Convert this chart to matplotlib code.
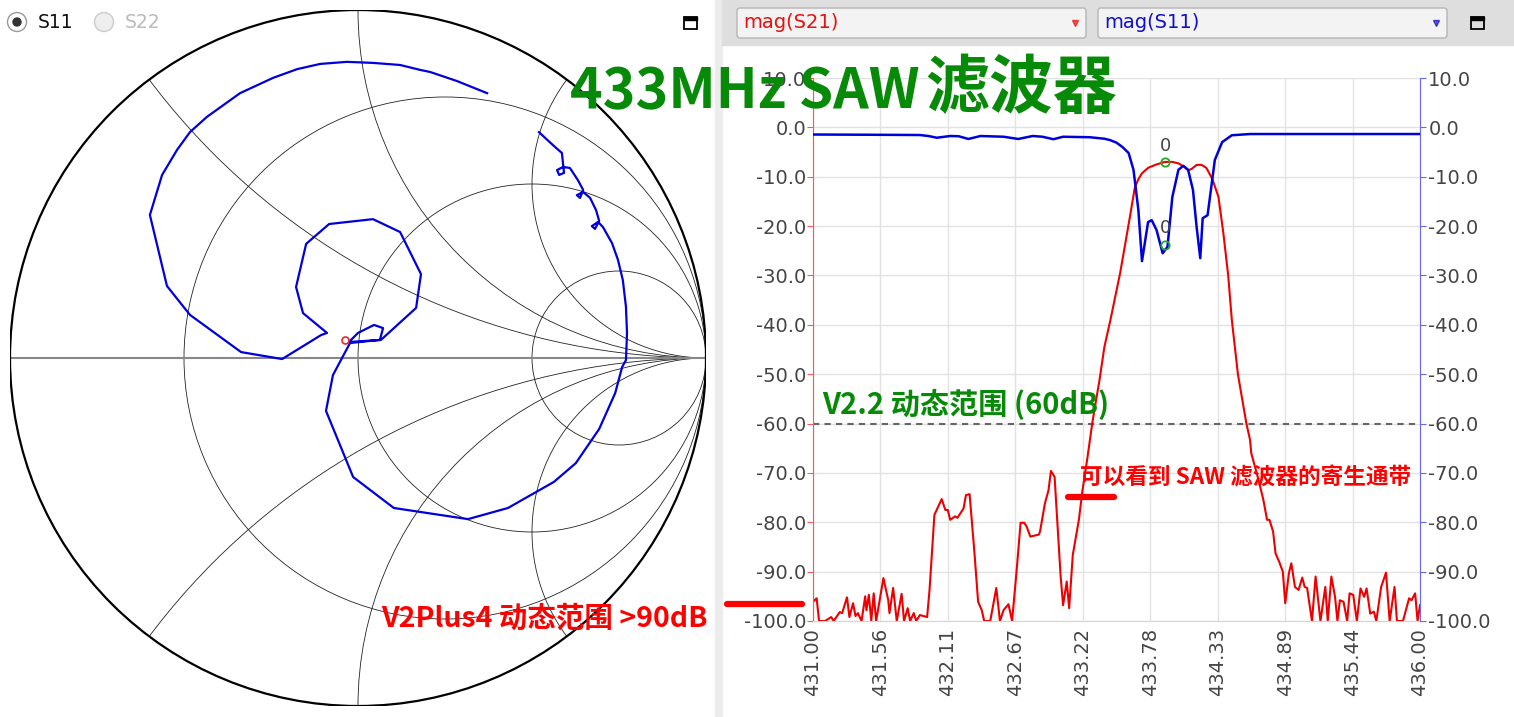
import numpy as np
import matplotlib
matplotlib.use('Agg')
import matplotlib.pyplot as plt
from matplotlib.patches import Circle, Rectangle, FancyBboxPatch

W, H = 1514, 717

# |S21| in dB vs frequency (MHz)
s21_freq = [431.00, 431.03, 431.05, 431.10, 431.15, 431.17, 431.22, 431.24, 431.28, 431.30,
            431.33, 431.35, 431.37, 431.40, 431.43, 431.44, 431.46, 431.48, 431.50, 431.52,
            431.58, 431.62, 431.63, 431.66, 431.69, 431.73, 431.75, 431.78, 431.80, 431.83,
            431.85, 431.88, 431.94, 431.96, 432.00, 432.03, 432.06, 432.09, 432.11, 432.13,
            432.17, 432.19, 432.24, 432.26, 432.29, 432.33, 432.36, 432.39, 432.41, 432.46,
            432.51, 432.54, 432.57, 432.61, 432.64, 432.68, 432.71, 432.74, 432.76, 432.79,
            432.86, 432.87, 432.91, 432.94, 432.96, 432.99, 433.04, 433.06, 433.09, 433.11,
            433.14, 433.19, 433.22, 433.26, 433.30, 433.33, 433.36, 433.40, 433.45, 433.53,
            433.61, 433.65, 433.68, 433.71, 433.76, 433.83, 433.90, 433.96, 434.01, 434.06,
            434.09, 434.12, 434.16, 434.20, 434.24, 434.29, 434.34, 434.38, 434.42, 434.45,
            434.50, 434.57, 434.60, 434.61, 434.67, 434.71, 434.74, 434.76, 434.79, 434.81,
            434.84, 434.87, 434.89, 434.92, 434.94, 434.97, 435.00, 435.03, 435.05, 435.07,
            435.11, 435.14, 435.18, 435.22, 435.24, 435.27, 435.30, 435.32, 435.34, 435.37,
            435.40, 435.42, 435.45, 435.48, 435.51, 435.54, 435.56, 435.59, 435.62, 435.64,
            435.68, 435.72, 435.75, 435.79, 435.81, 435.86, 435.91, 435.93, 435.96, 435.98,
            436.00]
s21_db = [-96.1, -95.4, -100, -100, -99.2, -100, -98.2, -98.4, -95.2, -99.2,
          -96.4, -99.0, -98.4, -100, -95.0, -97.8, -94.7, -100, -94.4, -100,
          -91.3, -95.8, -98.4, -93.3, -100, -94.5, -100, -97.4, -100, -98.4,
          -100, -98.8, -99.2, -93.7, -78.5, -76.9, -75.3, -77.5, -77.5, -79.5,
          -78.8, -79.1, -77.2, -74.5, -74.3, -86.2, -96.1, -97.8, -100, -100,
          -93.3, -100, -97.8, -96.6, -100, -89.0, -80.1, -80.1, -80.9, -82.9,
          -82.5, -81.9, -76.2, -73.5, -69.6, -70.8, -91.0, -96.8, -92.0, -97.4,
          -86.6, -79.5, -73.5, -67.0, -60.0, -55.5, -51.2, -44.5, -39.0, -29.5,
          -18.2, -12.3, -10.5, -9.3, -8.2, -7.5, -7.0, -7.0, -7.3, -8.0,
          -8.7, -8.4, -7.6, -7.6, -8.2, -10.5, -14.1, -21.4, -30.0, -39.0,
          -50.0, -60.0, -63.3, -66.0, -71.4, -75.5, -79.5, -79.5, -81.9, -86.3,
          -88.0, -90.0, -96.4, -90.3, -88.3, -93.1, -93.7, -91.2, -93.1, -93.3,
          -100, -91.0, -100, -93.1, -100, -91.0, -95.1, -100, -95.8, -96.1,
          -100, -94.4, -94.7, -100, -93.4, -95.1, -93.4, -98.5, -98.1, -100,
          -93.1, -90.2, -100, -93.1, -100, -100, -95.4, -95.8, -94.4, -100,
          -96.8]

# |S11| in dB vs frequency (MHz)
s11_freq = [431.00, 431.50, 431.88, 431.95, 432.02, 432.13, 432.20, 432.28, 432.38, 432.57,
            432.69, 432.81, 432.89, 432.98, 433.06, 433.28, 433.40, 433.45, 433.50, 433.55,
            433.60, 433.64, 433.68, 433.71, 433.76, 433.79, 433.83, 433.88, 433.92, 433.96,
            434.01, 434.05, 434.09, 434.13, 434.16, 434.19, 434.21, 434.25, 434.27, 434.31,
            434.37, 434.45, 434.60, 436.00]
s11_db = [-1.45, -1.5, -1.55, -1.75, -2.1, -1.75, -1.8, -2.35, -1.75, -1.9,
          -2.35, -1.75, -1.9, -2.4, -1.9, -2.0, -2.3, -2.6, -3.1, -4.0,
          -5.2, -8.6, -16.7, -27.1, -19.2, -18.8, -20.8, -25.5, -24.2, -14.1,
          -8.6, -7.8, -8.6, -12.7, -20.2, -26.5, -18.4, -17.8, -14.1, -6.6,
          -3.0, -1.6, -1.35, -1.35]

# S11 reflection coefficient for the Smith chart
smith_re = [0.371, 0.284, 0.207, 0.178, 0.121, 0.043, -0.032, -0.109, -0.175, -0.244,
            -0.339, -0.434, -0.483, -0.520, -0.563, -0.598, -0.549, -0.483, -0.336, -0.218,
            -0.106, -0.089, -0.158, -0.178, -0.149, -0.083, 0.043, 0.121, 0.181, 0.167,
            0.066, -0.026, 0.0, 0.046, 0.072, 0.063, -0.023, -0.072, -0.092, -0.014,
            0.103, 0.316, 0.431, 0.563, 0.626, 0.693, 0.739, 0.759, 0.770, 0.773,
            0.770, 0.761, 0.747, 0.730, 0.704, 0.690, 0.672, 0.681, 0.693, 0.684,
            0.667, 0.647, 0.629, 0.638, 0.647, 0.632, 0.609, 0.589, 0.572, 0.578,
            0.592, 0.589, 0.586, 0.560, 0.520]
smith_im = [0.761, 0.796, 0.822, 0.828, 0.842, 0.848, 0.851, 0.845, 0.830, 0.805,
            0.761, 0.693, 0.649, 0.598, 0.526, 0.411, 0.207, 0.124, 0.017, -0.003,
            0.066, 0.072, 0.129, 0.204, 0.328, 0.385, 0.399, 0.362, 0.241, 0.144,
            0.052, 0.046, 0.072, 0.095, 0.086, 0.052, 0.043, -0.049, -0.152, -0.342,
            -0.431, -0.463, -0.431, -0.356, -0.302, -0.204, -0.101, -0.026, -0.006, 0.072,
            0.147, 0.224, 0.282, 0.330, 0.376, 0.391, 0.379, 0.371, 0.394, 0.425,
            0.460, 0.477, 0.468, 0.460, 0.483, 0.511, 0.546, 0.549, 0.540, 0.526,
            0.532, 0.560, 0.589, 0.612, 0.649]

marker_freq = 433.90
marker_s21 = -7.0
marker_s11 = -23.8
marker_gamma = (-0.037, 0.052)

freq_ticks = np.linspace(431, 436, 10)
db_ticks = np.arange(-100, 11, 10)

cjk = ['Noto Sans CJK SC', 'DejaVu Sans']

fig = plt.figure(figsize=(W / 100, H / 100), dpi=100)

# ---- background / UI in pixel coords
bg = fig.add_axes([0, 0, 1, 1], zorder=0)
bg.set_xlim(0, W); bg.set_ylim(H, 0); bg.axis('off')
bg.add_patch(Rectangle((715, 0), 7, H, color='#ececec'))
bg.add_patch(Rectangle((722, 0), W - 722, 45, color='#dedede'))
for x0, txt, col in [(737, 'mag(S21)', '#e81010'), (1098, 'mag(S11)', '#1010d0')]:
    bg.add_patch(FancyBboxPatch((x0, 8), 349, 30, boxstyle='round,pad=0,rounding_size=3',
                                fc='#f3f3f3', ec='#b5b5b5', lw=1))
    bg.text(x0 + 6, 23, txt, color=col, fontsize=14, va='center')
    bg.plot(x0 + 338, 23, marker='v', color=col, ms=4, alpha=0.7)
for x0 in [684, 1471]:
    bg.add_patch(Rectangle((x0, 17), 13, 12, fill=False, ec='black', lw=1.3))
    bg.add_patch(Rectangle((x0, 17), 13, 3, color='black'))
bg.add_patch(Circle((17, 22), 9.5, fc='white', ec='#999999', lw=1))
bg.add_patch(Circle((17, 22), 4, color='#333333'))
bg.text(38, 22, 'S11', fontsize=13.5, color='#111111', va='center')
bg.add_patch(Circle((104, 22), 9.5, fc='#eeeeee', ec='#cccccc', lw=1))
bg.text(125, 22, 'S22', fontsize=13.5, color='#bbbbbb', va='center')

# ---- Smith chart
sm = fig.add_axes([10 / W, (H - 706) / H, 696 / W, 696 / H], zorder=1)
sm.set_xlim(-1, 1); sm.set_ylim(-1, 1); sm.axis('off')
unit = Circle((0, 0), 1, fill=False, lw=1.6, ec='black', zorder=3)
sm.add_patch(unit)
for r in [1 / 3, 1, 3]:
    sm.add_patch(Circle((r / (1 + r), 0), 1 / (1 + r), fill=False, lw=0.6, ec='#222222'))
for xr in [0.5, 1, 2]:
    for s in [1, -1]:
        arc = Circle((1, s / xr), 1 / xr, fill=False, lw=0.6, ec='#222222')
        sm.add_patch(arc)
        arc.set_clip_path(unit)
sm.plot([-1, 1], [0, 0], color='#888888', lw=1.5)
sm.plot(smith_re, smith_im, color='#0000dd', lw=1.6, zorder=4)
sm.plot(*marker_gamma, 'o', mfc='none', mec='#ee2222', ms=5, mew=1.2, zorder=5)

# ---- magnitude plot
ax = fig.add_axes([813 / W, (H - 621) / H, 607 / W, 543 / H], zorder=2)
ax.set_xlim(431, 436); ax.set_ylim(-100, 10)
ax.set_xticks(freq_ticks)
ax.set_xticklabels([f'{v:.2f}' for v in freq_ticks], rotation=90)
ax.set_yticks(db_ticks)
ax.set_yticklabels([f'{v:.1f}' for v in db_ticks])
ax.grid(color='#e2e2e2', lw=1)
ax.set_axisbelow(True)
for side in ['top', 'right']:
    ax.spines[side].set_visible(False)
ax.spines['left'].set_color('#ff5555')
ax.spines['bottom'].set_color('#d5d5d5')
ax.tick_params(axis='y', colors='#ff5555', labelcolor='#444444', length=4, pad=1, labelsize=14)
ax.tick_params(axis='x', length=0, pad=5, labelcolor='#444444', labelsize=14)
ax.axhline(-60, color='#666666', ls=(0, (3, 2.5)), lw=1.5)
ax.plot(s21_freq, s21_db, color='#ee0000', lw=1.5)

ax2 = ax.twinx()
ax2.set_ylim(-100, 10)
ax2.set_yticks(db_ticks)
ax2.set_yticklabels([f'{v:.1f}' for v in db_ticks])
for side in ['top', 'left', 'bottom']:
    ax2.spines[side].set_visible(False)
ax2.spines['right'].set_color('#6666ff')
ax2.tick_params(axis='y', colors='#6666ff', labelcolor='#444444', length=4, pad=2, labelsize=14)
ax2.plot(s11_freq, s11_db, color='#0000dd', lw=1.8)

for val in [marker_s21, marker_s11]:
    ax2.plot(marker_freq, val, 'o', mfc='none', mec='#22aa22', ms=6, mew=1.3)
    ax2.text(marker_freq, val + 1.5, '0', ha='center', va='bottom', color='#444444', fontsize=13)

# ---- annotations on top
top = fig.add_axes([0, 0, 1, 1], zorder=10)
top.set_xlim(0, W); top.set_ylim(H, 0); top.axis('off')
top.text(570, 108, '433MHz SAW', family=cjk, weight='bold', fontsize=40,
         color='#078a07', va='baseline')
top.text(1117, 108, '滤波器', family=cjk, weight='bold', fontsize=46,
         color='#078a07', va='baseline', ha='right')
top.text(822, 414, 'V2.2 动态范围 (60dB)', family=cjk, weight='bold', fontsize=21,
         color='#078a07', va='baseline')
top.text(1080, 484, '可以看到 SAW 滤波器的寄生通带', family=cjk, weight='bold',
         fontsize=16.3, color='#ff0000', va='baseline')
top.text(381, 627, 'V2Plus4 动态范围 >90dB', family=cjk, weight='bold', fontsize=20.5,
         color='#ff0000', va='baseline')
top.plot([727, 802], [604, 604], color='#ff0000', lw=4.5, solid_capstyle='round')
top.plot([1068, 1114], [497, 497], color='#ff0000', lw=4.5, solid_capstyle='round')

fig.savefig('out.png', dpi=100)
